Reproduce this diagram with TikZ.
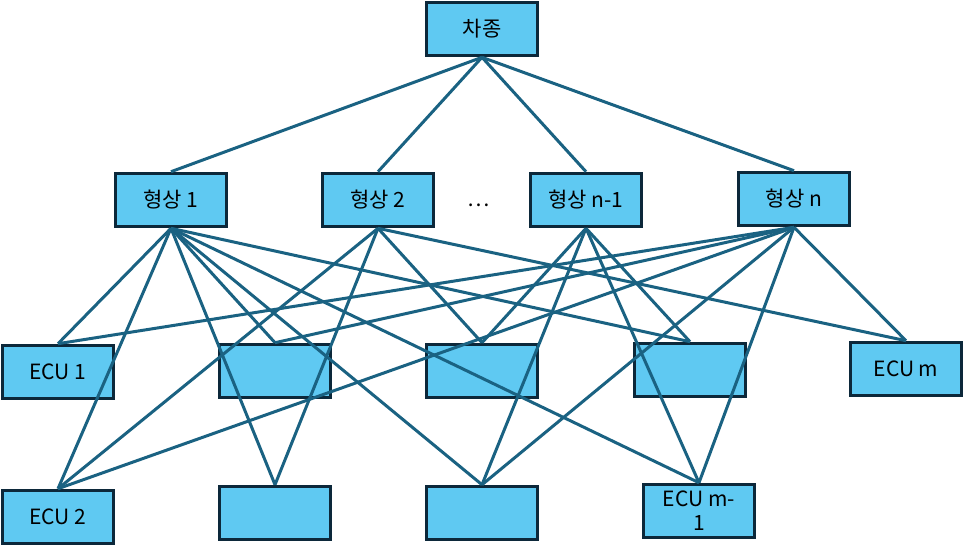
\documentclass[tikz,border=0pt]{standalone}
\usepackage{fontspec}
\setmainfont{Noto Sans CJK KR}
\usepackage{xcolor}
\usepackage{tikz}
\definecolor{boxfill}{RGB}{95,201,242}
\definecolor{boxline}{RGB}{12,40,58}
\definecolor{linkc}{RGB}{26,98,130}

\begin{document}
\begin{tikzpicture}[x=1pt,y=-1pt,
    font=\fontsize{21}{24}\selectfont,
    box/.style={draw=boxline,line width=3.6pt,fill=boxfill,
        minimum width=111pt,minimum height=53pt,inner sep=2pt,align=center},
    link/.style={draw=linkc,line width=3pt}
]
\useasboundingbox (0,0) rectangle (964,547);
\node[box] (car) at (482,29) {차종};
\node[box] (s1) at (171,200) {형상 1};
\node[box] (s2) at (378,200) {형상 2};
\node (dots) at (479,205) {\ldots};
\node[box] (s3) at (586,200) {형상 n-1};
\node[box] (s4) at (794,199) {형상 n};
\node[box] (e1) at (58,372) {ECU 1};
\node[box] (b2) at (275,371) {};
\node[box] (b3) at (482,371) {};
\node[box] (b4) at (690,370) {};
\node[box] (em) at (906,369) {ECU m};
\node[box] (e2) at (58,517) {ECU 2};
\node[box] (b6) at (275,513) {};
\node[box] (b7) at (482,513) {};
\node[box] (em1) at (699,511) {ECU m-\\1};
\foreach \s in {s1,s2,s3,s4}
    \draw[link] (car.south) -- (\s.north);
\foreach \a/\b in {s1/e1,s1/e2,s1/b2,s1/b6,s1/b7,s1/b4,s1/em1,
                   s2/e2,s2/b6,s2/b3,s2/em,
                   s3/b3,s3/b7,s3/b4,s3/em1,
                   s4/e1,s4/b2,s4/e2,s4/b7,s4/em1,s4/em}
    \draw[link] (\a.south) -- (\b.north);
\end{tikzpicture}
\end{document}
